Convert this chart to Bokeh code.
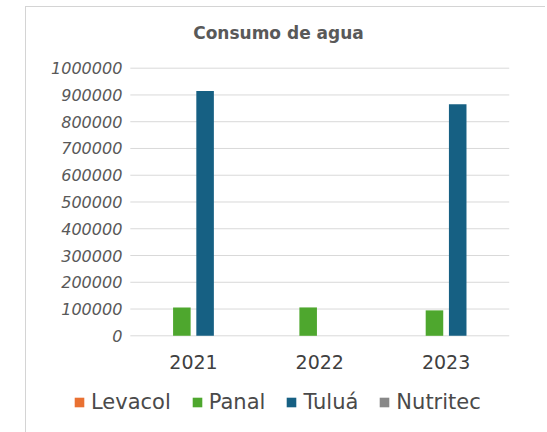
from bokeh.plotting import figure
from bokeh.models import ColumnDataSource, Legend, LegendItem, Label, Range1d
from bokeh.transform import dodge
from bokeh.embed import file_html
from bokeh.resources import INLINE
from bokeh.core.properties import value

years = ["2021", "2022", "2023"]
series = ["Levacol", "Panal", "Tuluá", "Nutritec"]
levacol = [0, 0, 0]
panal = [106000, 106000, 95000]
tulua = [915000, 0, 865000]
nutritec = [0, 0, 0]
colors = ["#E97132", "#4EA72E", "#166083", "#888888"]
y_ticks = [0, 100000, 200000, 300000, 400000, 500000, 600000, 700000, 800000, 900000, 1000000]
y_tick_labels = [str(t) for t in y_ticks]

idx = list(range(len(years)))
src = ColumnDataSource(dict(x=idx, years=years, Levacol=levacol, Panal=panal, Tulua=tulua, Nutritec=nutritec))

# frame fills the whole figure; ranges chosen so the plotting area sits where the reference has it
p = figure(x_range=Range1d(-1.322, 2.795), y_range=Range1d(-365100, 1226800),
           width=520, height=426, output_backend="svg", toolbar_location=None,
           min_border=0, margin=(6, 0, 0, 25),
           styles={"border-top": "1px solid #d4d4d4", "border-left": "1px solid #d4d4d4"})
p.outline_line_color = None
p.background_fill_color = "white"
p.border_fill_color = "white"
p.axis.visible = False
p.grid.visible = False

# gridlines
lo, hi = -0.5, len(years) - 0.5
p.segment(x0=[lo] * len(y_ticks), x1=[hi] * len(y_ticks), y0=y_ticks, y1=y_ticks,
          line_color="#d9d9d9", line_width=1)

# y tick labels
p.text(x=[lo] * len(y_ticks), y=y_ticks, text=y_tick_labels, x_offset=-8,
       text_align="right", text_baseline="middle", text_font=value("DejaVu Sans"),
       text_font_style="italic", text_font_size="16px", text_color="#595959")

# category labels
p.text(x=idx, y=[0] * len(years), text=years, y_offset=26,
       text_align="center", text_baseline="middle", text_font=value("DejaVu Sans"),
       text_font_size="19px", text_color="#404040")

offsets = [-0.276, -0.092, 0.092, 0.276]
cols = ["Levacol", "Panal", "Tulua", "Nutritec"]
renderers = []
for col, off, c in zip(cols, offsets, colors):
    r = p.vbar(x=dodge("x", off), top=col, width=0.139, source=src,
               fill_color=c, line_color=None)
    renderers.append(r)

title = Label(x=0.673, y=1133000, text="Consumo de agua", text_align="center", text_baseline="middle",
              text_font="DejaVu Sans", text_font_size="17px", text_font_style="bold", text_color="#595959")
p.add_layout(title)

legend = Legend(items=[LegendItem(label=s, renderers=[r]) for s, r in zip(series, renderers)],
                orientation="horizontal", location=(47, 19), padding=0, margin=0,
                border_line_color=None, background_fill_alpha=0,
                glyph_width=12, glyph_height=12, label_standoff=6, spacing=20,
                label_text_font="DejaVu Sans", label_text_font_size="21px", label_text_color="#4a4a4a")
p.add_layout(legend, "center")

open("out.html", "w").write(file_html(p, INLINE))
